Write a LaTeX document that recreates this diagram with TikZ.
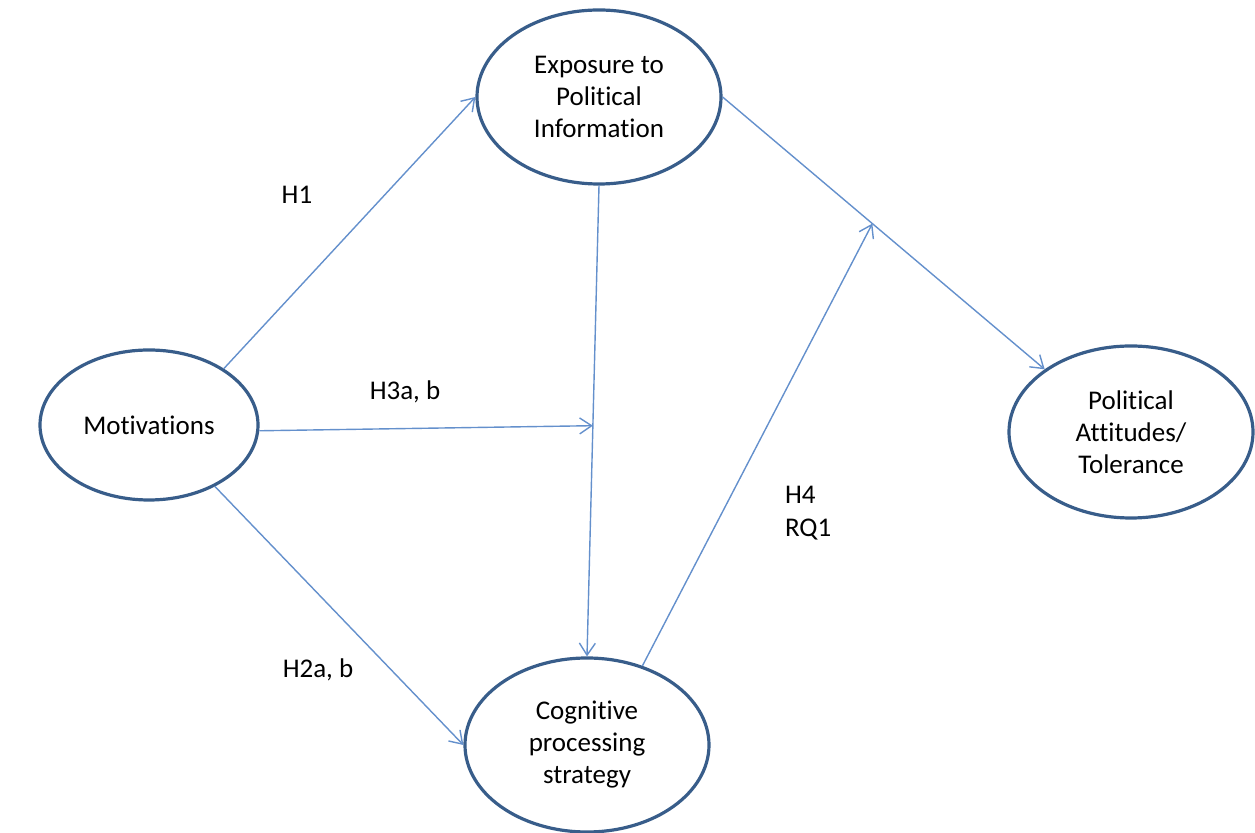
\documentclass[tikz,border=0pt]{standalone}
\usepackage{fontspec}
\setmainfont{Carlito}[Ligatures=NoCommon]
\usepackage{xcolor}
\usepackage{tikz}
\usetikzlibrary{
    shapes.geometric,
    arrows.meta,
    positioning,
    calc
}
\definecolor{rim}{RGB}{56,93,138}
\definecolor{link}{RGB}{100,144,204}
\definecolor{labeltext}{RGB}{0,0,0}
\tikzset{
    construct/.style={
        ellipse,
        draw=rim,
        fill=white,
        line width=1.6pt,
        inner sep=0pt,
        align=center,
        font=\fontsize{13.5}{16}\selectfont
    },
    path/.style={
        -{Straight Barb[length=6pt,width=8pt]},
        draw=link,
        line width=0.7pt
    },
    hyp/.style={
        font=\fontsize{13.5}{16.5}\selectfont,
        color=labeltext,
        align=left
    }
}

\begin{document}
\begin{tikzpicture}[x=0.5pt, y=-0.5pt]
    \useasboundingbox (0,0) rectangle (1255,833);

    % Constructs
    \node[construct, minimum width=122pt, minimum height=87pt] (expo) at (599,97)
        {Exposure to\\Political\\Information};
    \node[construct, minimum width=109pt, minimum height=75pt] (motiv) at (149,425)
        {Motivations};
    \node[construct, minimum width=122pt, minimum height=86pt] (attit) at (1131,432)
        {Political\\Attitudes/\\Tolerance};
    \node[construct, minimum width=122pt, minimum height=87pt] (cogn) at (587,745)
        {Cognitive\\processing\\strategy};

    % Paths between constructs
    \draw[path] (expo.south) -- coordinate[pos=0.51] (h3end) (cogn.north);
    \draw[path] (expo.0) -- coordinate[pos=0.465] (h4end) (attit.144);
    \draw[path] (motiv.37) -- (expo.180);
    \draw[path] (motiv.-3) -- (h3end);
    \draw[path] (motiv.-43) -- (cogn.180);
    \draw[path] (cogn.55) -- (h4end);

    % Hypotheses
    \node[hyp] (h1) at (297,195) {H1};
    \node[hyp] (h3) at (405,392) {H3a, b};
    \node[hyp] (h2) at (318,670) {H2a, b};
    \node[hyp, anchor=west] (h4) at (778,513) {H4\\RQ1};
\end{tikzpicture}
\end{document}
